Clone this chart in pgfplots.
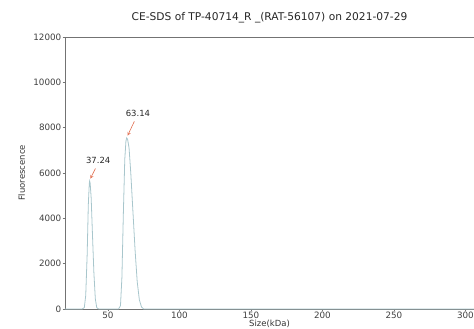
\documentclass[border=0pt]{standalone}
\usepackage{pgfplots}
\pgfplotsset{compat=1.18}
\usepackage{fontspec}
\setmainfont{DejaVu Sans}
\definecolor{trace}{RGB}{168,198,204}
\definecolor{arr}{RGB}{225,110,80}
\begin{document}
\begin{tikzpicture}
\useasboundingbox (-65bp,-20bp) rectangle (409bp,309bp);
\begin{axis}[
  at={(0,0)}, anchor=south west,
  scale only axis, width=409bp, height=272bp,
  xmin=20, xmax=306, ymin=0, ymax=12000,
  xtick={50,100,150,200,250,300},
  ytick={0,2000,4000,6000,8000,10000,12000},
  scaled y ticks=false,
  /pgf/number format/1000 sep={},
  /pgf/number format/assume math mode=true,
  tick label style={font=\fontsize{8.8}{9}\selectfont, text=black!75},
  xticklabel style={inner sep=1pt, yshift=1pt},
  yticklabel style={inner sep=1pt},
  tick align=outside, tick pos=left,
  major tick length=2.5pt,
  axis line style={black!55, line width=0.6pt},
  every tick/.style={black!55},
  title={CE-SDS of TP-40714\_R \_(RAT-56107) on 2021-07-29},
  title style={font=\fontsize{10.7}{11}\selectfont, yshift=5pt, text=black!85},
  xlabel={Size(kDa)}, ylabel={Fluorescence},
  xlabel style={font=\fontsize{8.5}{9}\selectfont, at={(axis description cs:0.5,0)}, anchor=north, inner sep=0pt, yshift=-10.5bp, text=black!80},
  ylabel style={font=\fontsize{8.5}{9}\selectfont, yshift=4pt, text=black!80},
  clip=false,
]
\addplot[trace, line width=0.8pt] coordinates {
(20,0) (32,0) (33.5,60) (34.5,600) (35.5,2400) (36.3,4600) (37.0,5550) (37.24,5650)
(37.6,5550) (38.3,4900) (39.2,3300) (40.2,1600) (41.2,450) (42.2,60) (43.5,0)
(57.5,0) (58.8,150) (59.8,1400) (60.8,4200) (61.8,6600) (62.6,7400) (63.14,7550)
(63.8,7480) (64.8,7100) (66,6000) (67.5,4300) (69,2600) (70.5,1200) (72,400) (73.5,90) (75,0)
(306,0)
};
\node[font=\fontsize{8.5}{9}\selectfont, text=black!85] at (axis cs:43.2,6550) {37.24};
\draw[arr, -stealth, line width=0.6pt] (axis cs:41.3,6200) -- (axis cs:37.7,5750);
\node[font=\fontsize{8.5}{9}\selectfont, text=black!85] at (axis cs:71,8620) {63.14};
\draw[arr, -stealth, line width=0.6pt] (axis cs:68.5,8280) -- (axis cs:63.8,7650);
\end{axis}
\end{tikzpicture}
\end{document}
